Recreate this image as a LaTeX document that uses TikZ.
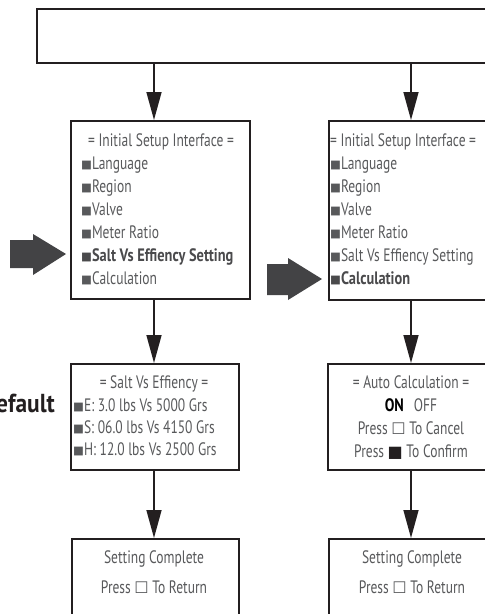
\documentclass[tikz,border=0pt]{standalone}
\usepackage{fontspec}
\setmainfont{PT Sans}[FakeStretch=0.75, BoldFeatures={FakeStretch=0.8}]
\newfontfamily\deffont{PT Sans}[FakeStretch=0.9]
\newfontfamily\sym{DejaVu Sans}
\usetikzlibrary{arrows.meta}
\definecolor{txt}{HTML}{58595B}
\definecolor{txtb}{HTML}{4A4A4C}
\definecolor{ink}{HTML}{231F20}
\definecolor{bigarr}{HTML}{434345}
\newcommand{\bul}{\raisebox{0.5pt}{\sym\fontsize{11.5}{11.5}\selectfont ■}}
\newcommand{\wsq}{{\sym\fontsize{16}{16}\selectfont ☐}}
\newcommand{\bsq}{{\sym\fontsize{16}{16}\selectfont\color{ink}■}}
\tikzset{
  box/.style={draw=ink, line width=2.4pt, inner sep=0pt},
  topbox/.style={draw=ink, line width=1.5pt, inner sep=0pt},
  conn/.style={draw=ink, line width=1.5pt, -{Triangle[width=15pt,length=28pt]}},
  lbl/.style={inner sep=0pt, text=txt, font=\fontsize{18}{18}\selectfont},
  item/.style={lbl, anchor=base west},
  ctr/.style={lbl, anchor=base},
  big/.style={fill=bigarr}
}
\begin{document}
\begin{tikzpicture}[x=1pt,y=-1pt]
\useasboundingbox (0,0) rectangle (485,614);
\clip (0,0) rectangle (485,614);
% boxes
\node[topbox, minimum width=500pt, minimum height=54pt, anchor=north west] (top) at (36,8) {};
\node[box, minimum width=179pt, minimum height=178pt, anchor=north west] (b2l) at (70,120) {};
\node[box, minimum width=190pt, minimum height=179pt, anchor=north west] (b2r) at (328,120) {};
\node[box, minimum width=168pt, minimum height=106pt, anchor=north west] (b3l) at (70,363) {};
\node[box, minimum width=190pt, minimum height=106pt, anchor=north west] (b3r) at (327,363) {};
\node[box, minimum width=167pt, minimum height=100pt, anchor=north west] (b4l) at (71,538) {};
\node[box, minimum width=190pt, minimum height=100pt, anchor=north west] (b4r) at (328,538) {};
\coordinate (cl) at (154,0);
\coordinate (cr) at (411,0);
% connectors
\draw[conn] (top.south -| cl) -- (b2l.north -| cl);
\draw[conn] (top.south -| cr) -- (b2r.north -| cr);
\draw[conn] (b2l.south -| cl) -- (b3l.north -| cl);
\draw[conn] (b2r.south -| cr) -- (b3r.north -| cr);
\draw[conn] (b3l.south -| cl) -- (b4l.north -| cl);
\draw[conn] (b3r.south -| cr) -- (b4r.north -| cr);
% big grey arrows
\fill[big] (10,240) -- (33,240) -- (33,234) -- (66,254) -- (33,275) -- (33,268) -- (10,268) -- cycle;
\fill[big] (267,264) -- (288,264) -- (288,258) -- (322,279) -- (288,300) -- (288,295) -- (267,295) -- cycle;
% Default
\node[inner sep=0pt, anchor=base east, text=ink, font=\deffont\fontsize{26}{26}\selectfont\bfseries] (def) at (55,412) {Default};
% left setup menu
\node[ctr] (h2l) at (161,146) {= Initial Setup Interface =};
\node[item] (l1) at (81,169) {\bul Language};
\node[item] (l2) at (81,192) {\bul Region};
\node[item] (l3) at (81,215) {\bul Valve};
\node[item] (l4) at (81,238) {\bul Meter Ratio};
\node[item, text=txtb] (l5) at (81,261) {\bul\bfseries Salt Vs Effiency Setting};
\node[item] (l6) at (81,284) {\bul Calculation};
% right setup menu
\node[item] (h2r) at (330,146) {= Initial Setup Interface =};
\node[item] (r1) at (330,169) {\bul Language};
\node[item] (r2) at (330,192) {\bul Region};
\node[item] (r3) at (330,215) {\bul Valve};
\node[item] (r4) at (330,238) {\bul Meter Ratio};
\node[item] (r5) at (330,261) {\bul Salt Vs Effiency Setting};
\node[item, text=txtb] (r6) at (330,284) {\bul\bfseries Calculation};
% salt vs effiency
\node[ctr] (h3l) at (154,388) {= Salt Vs Effiency =};
\node[item] (s1) at (73,411) {\bul E: 3.0 lbs Vs 5000 Grs};
\node[item] (s2) at (73,433) {\bul S: 06.0 lbs Vs 4150 Grs};
\node[item] (s3) at (73,455) {\bul H: 12.0 lbs Vs 2500 Grs};
% auto calculation
\node[ctr] (h3r) at (411,388) {= Auto Calculation =};
\node[ctr] (a1) at (411,411) {\textcolor{black}{\bfseries ON}\hspace{10pt}OFF};
\node[ctr] (a2) at (411,434) {Press \wsq\ To Cancel};
\node[ctr] (a3) at (411,457) {Press \bsq\ To Confirm};
% setting complete
\node[ctr] (c1) at (154,563) {Setting Complete};
\node[ctr] (c2) at (154,593) {Press \wsq\ To Return};
\node[ctr] (c3) at (412,563) {Setting Complete};
\node[ctr] (c4) at (412,593) {Press \wsq\ To Return};
\end{tikzpicture}
\end{document}
